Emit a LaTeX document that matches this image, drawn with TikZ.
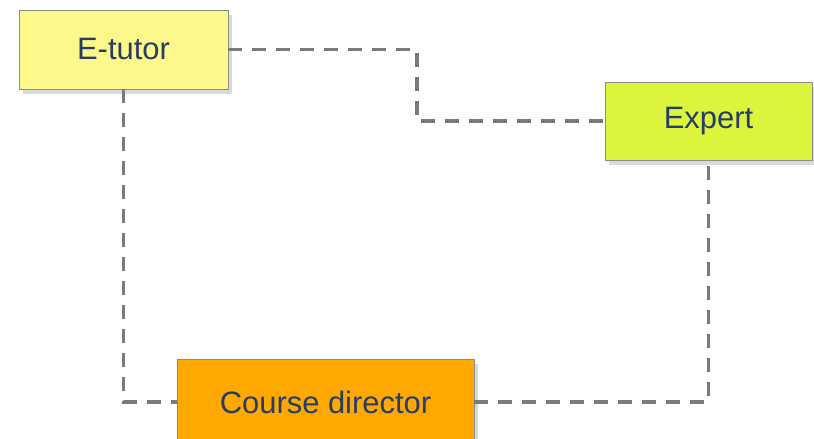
\documentclass[tikz,border=0pt]{standalone}
\usepackage{fontspec}
\setmainfont{Liberation Sans}
\usetikzlibrary{positioning,shadows}
\definecolor{tutorfill}{HTML}{FCF98A}
\definecolor{expertfill}{HTML}{DCF53C}
\definecolor{directorfill}{HTML}{FFA800}
\definecolor{labeltext}{HTML}{263D68}
\definecolor{linkgray}{HTML}{7A7A7A}
\begin{document}
\begin{tikzpicture}[rolenode/.style={rectangle, draw=black!45, thin, text=labeltext,
        font=\fontsize{22}{26}\selectfont, inner sep=0pt,
        drop shadow={shadow xshift=0.1cm, shadow yshift=-0.12cm, opacity=0.3}},
    link/.style={draw=linkgray, line width=2.2pt, dash pattern=on 0.35cm off 0.25cm}]

        \useasboundingbox (0,0) rectangle (20.35,10.975);

        \node[rolenode, fill=tutorfill, minimum width=5.225cm, minimum height=1.975cm] (tutor) at (3.0875,9.7375) {E-tutor};
        \node[rolenode, fill=expertfill, minimum width=5.175cm, minimum height=1.95cm] (expert) at (17.7125,7.95) {Expert};
        \node[rolenode, fill=directorfill, minimum width=7.425cm, minimum height=2.15cm] (director) at (8.1375,0.925) {Course director};

        \coordinate (bend) at (10.425,8.6);

        \draw[link] (tutor.east) -| (bend) |- (expert.west);
        \draw[link] (tutor.south) |- (director.west);
        \draw[link] (director.east) -| (expert.south);

        \end{tikzpicture}
\end{document}
